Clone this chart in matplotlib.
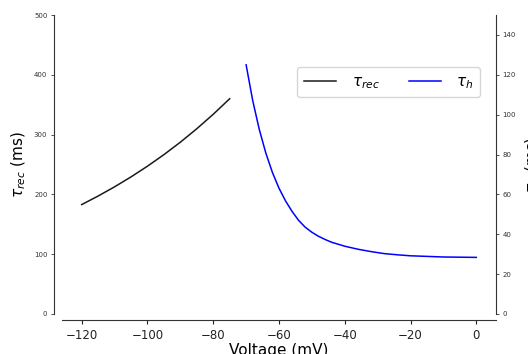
import matplotlib
matplotlib.use("Agg")
import matplotlib.pyplot as plt

# tau_rec (left axis) vs voltage
v_rec = [-120, -115, -110, -105, -100, -95, -90, -85, -80, -75]
tau_rec = [183.0, 197.3, 212.7, 229.3, 247.2, 266.5, 287.3, 309.8, 334.0, 360.0]

# tau_h (right axis) vs voltage
v_h = [-70, -68, -66, -64, -62, -60, -58, -56, -54, -52, -50, -48, -46, -44,
       -42, -40, -36, -32, -28, -24, -20, -15, -10, -5, 0]
tau_h = [125.0, 107.1, 92.6, 80.7, 71.0, 63.1, 56.7, 51.4, 46.9, 43.5, 41.0,
         39.0, 37.4, 36.0, 35.0, 34.0, 32.5, 31.3, 30.3, 29.7, 29.2, 28.9,
         28.6, 28.5, 28.4]

left_ticks = [0, 100, 200, 300, 400, 500]
right_ticks = [0, 20, 40, 60, 80, 100, 120, 140]
x_ticks = [-120, -100, -80, -60, -40, -20, 0]

fig = plt.figure(figsize=(5.28, 3.54), dpi=100)
ax = fig.add_axes([62/528, 40/354, 434/528, 299/354])
ax2 = ax.twinx()

l1, = ax.plot(v_rec, tau_rec, color="#1a1a1a", lw=1.1, label=r"$\tau_{rec}$")
l2, = ax2.plot(v_h, tau_h, color="#0000ff", lw=1.1, label=r"$\tau_h$")

ax.set_xlim(-126, 6)
ax.set_ylim(0, 500)
ax2.set_ylim(0, 150)

ax.set_xticks(x_ticks)
ax.set_yticks(left_ticks)
ax2.set_yticks(right_ticks)

for a in (ax, ax2):
    a.spines['top'].set_visible(False)
ax.spines['right'].set_visible(False)
ax2.spines['left'].set_visible(False)
ax2.spines['bottom'].set_visible(False)
ax.spines['left'].set_position(('outward', 6))
ax.spines['bottom'].set_position(('outward', 4.3))
for a in (ax, ax2):
    for s in a.spines.values():
        s.set_color("#333333")
        s.set_linewidth(0.8)

ax.tick_params(axis='x', labelsize=8.5, length=3, width=0.8, colors="#222222")
ax.tick_params(axis='y', labelsize=5, length=2.5, width=0.6, colors="#333333", pad=2)
ax2.tick_params(axis='y', labelsize=5, length=2.5, width=0.6, colors="#333333", pad=2)

ax.set_xlabel("Voltage (mV)", fontsize=11, labelpad=1)
ax.set_ylabel(r"$\tau_{rec}$ (ms)", fontsize=11, labelpad=4)
ax2.set_ylabel(r"$\tau_h$ (ms)", fontsize=11, labelpad=6)

leg = ax.legend([l1, l2], [r"$\tau_{rec}$", r"$\tau_h$"], ncol=2,
                loc='upper right', bbox_to_anchor=(0.963, 0.826),
                borderaxespad=0, fontsize=11, handlelength=2.1,
                columnspacing=1.9, handletextpad=1.0, borderpad=0.45)
leg.set_zorder(5)

fig.savefig("out.png", dpi=100)
